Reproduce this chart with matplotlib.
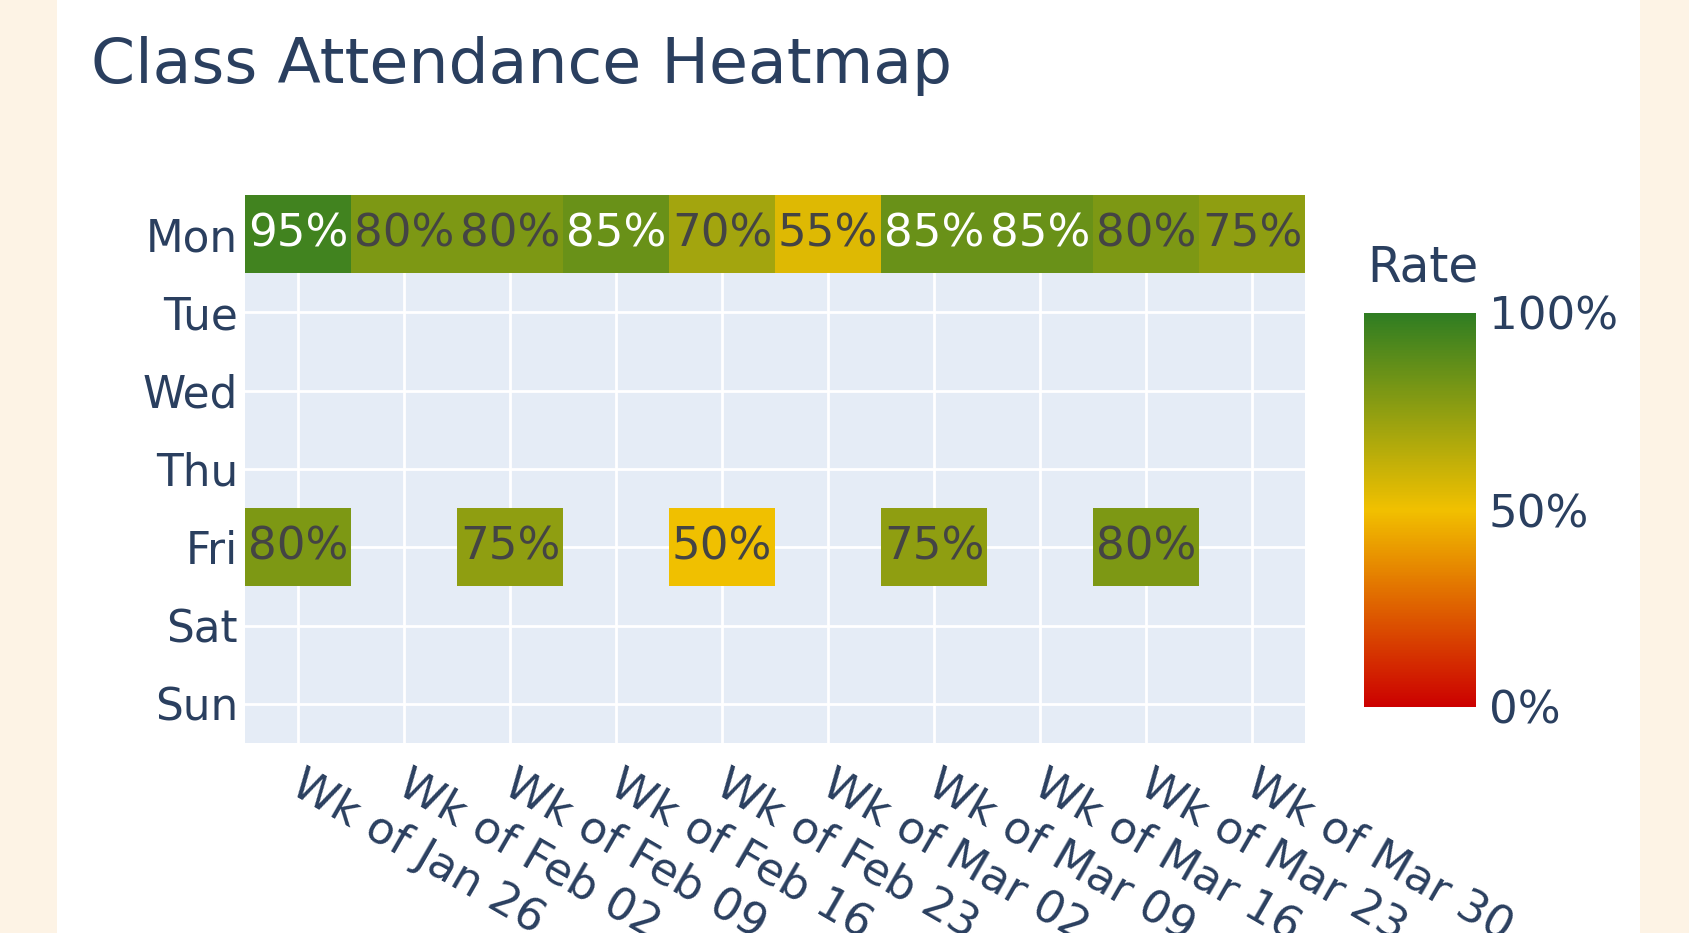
import numpy as np
import matplotlib
matplotlib.use('Agg')
import matplotlib.pyplot as plt
from matplotlib.colors import LinearSegmentedColormap
from matplotlib.patches import Rectangle
from matplotlib.transforms import ScaledTranslation

# datos
days = ['Mon', 'Tue', 'Wed', 'Thu', 'Fri', 'Sat', 'Sun']
weeks = ['Wk of Jan 26', 'Wk of Feb 02', 'Wk of Feb 09', 'Wk of Feb 16', 'Wk of Feb 23',
         'Wk of Mar 02', 'Wk of Mar 09', 'Wk of Mar 16', 'Wk of Mar 23', 'Wk of Mar 30']
mon = [95, 80, 80, 85, 70, 55, 85, 85, 80, 75]
fri = [80, np.nan, 75, np.nan, 50, np.nan, 75, np.nan, 80, np.nan]
empty = [np.nan] * len(weeks)

rates = np.array([mon, empty, empty, empty, fri, empty, empty], dtype=float)

azul = '#2A3F5F'
cmap = LinearSegmentedColormap.from_list('att', [(0, '#CC0000'), (0.5, '#F1C000'), (1, '#2F7D22')])

fig = plt.figure(figsize=(16.89, 9.33), dpi=100)
fig.patch.set_facecolor('#FDF3E5')
fig.patches.append(Rectangle((57 / 1689, 0), (1640 - 57) / 1689, 1, transform=fig.transFigure,
                             facecolor='white', edgecolor='none', zorder=-10))

ax = fig.add_axes([245 / 1689, 1 - 743 / 933, 1060 / 1689, 548 / 933])
ax.set_facecolor('#E5ECF6')
for s in ax.spines.values():
    s.set_visible(False)

masked = np.ma.masked_invalid(rates)
mesh = ax.pcolormesh(np.arange(len(weeks) + 1) - 0.5, np.arange(len(days) + 1) - 0.5, masked,
                     cmap=cmap, vmin=0, vmax=100)
ax.set_xlim(-0.5, len(weeks) - 0.5)
ax.set_ylim(len(days) - 0.5, -0.5)

for i in range(len(days)):
    for j in range(len(weeks)):
        v = rates[i, j]
        if np.isnan(v):
            continue
        col = 'white' if v >= 85 else '#444444'
        ax.text(j, i, f'{int(v)}%', ha='center', va='center', fontsize=32.5, color=col)

ax.set_axisbelow(True)
ax.grid(True, color='white', linewidth=2)
ax.set_xticks(range(len(weeks)))
ax.set_yticks(range(len(days)))
ax.set_yticklabels(days, fontsize=31.5, color=azul)
ax.set_xticklabels(weeks, fontsize=32.5, color=azul, rotation=-30, ha='left', va='top',
                   rotation_mode='anchor')
ax.tick_params(length=0, pad=5)
ax.tick_params(axis='x', pad=14)
desplaza = ScaledTranslation(8 / 100, 0, fig.dpi_scale_trans)
for lab in ax.get_xticklabels():
    lab.set_transform(lab.get_transform() + desplaza)

# barra de color
cax = fig.add_axes([1364 / 1689, 1 - 707 / 933, 112 / 1689, 394 / 933])
cb = fig.colorbar(mesh, cax=cax)
cb.outline.set_visible(False)
cb.set_ticks([0, 50, 100])
cb.set_ticklabels(['0%', '50%', '100%'])
cax.tick_params(length=0, labelsize=32.5, labelcolor=azul, pad=9)
fig.text(1367 / 1689, 1 - 282 / 933, 'Rate', fontsize=35, color=azul, ha='left', va='baseline')

fig.text(91 / 1689, 1 - 83 / 933, 'Class Attendance Heatmap', fontsize=45.5, color=azul,
         ha='left', va='baseline')

fig.savefig('out.png', dpi=100, facecolor=fig.get_facecolor())
